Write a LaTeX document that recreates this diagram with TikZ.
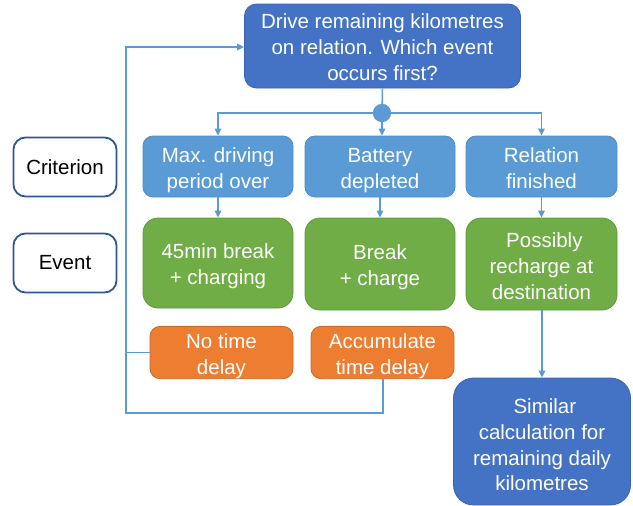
\documentclass[tikz,border=0pt]{standalone}
\usepackage{fontspec}
\setmainfont{Liberation Sans}
\usetikzlibrary{arrows.meta}
\definecolor{dblue}{HTML}{4472C4}
\definecolor{dbluebd}{HTML}{3A64B0}
\definecolor{lblue}{HTML}{5B9BD5}
\definecolor{lbluebd}{HTML}{4F8CC4}
\definecolor{green}{HTML}{70AD47}
\definecolor{greenbd}{HTML}{5E9A3A}
\definecolor{orange}{HTML}{ED7D31}
\definecolor{orangebd}{HTML}{C96A2A}
\definecolor{labbd}{HTML}{2F5597}
\definecolor{conn}{HTML}{5B9BD5}
\newcommand\topstr[1][22pt]{\rule{0pt}{#1}}
\begin{document}
\begin{tikzpicture}[x=1pt,y=-1pt,
  every node/.style={inner sep=0pt,align=center,font=\fontsize{20.5}{25.8}\selectfont},
  box/.style={draw,line width=0.8pt,text=white,rounded corners=#1,
    execute at end node={\rule[-4.5pt]{0pt}{4.5pt}}},
  box/.default=10pt,
  topbox/.style={box=12pt,fill=dblue,draw=dbluebd,minimum width=276pt,minimum height=84pt},
  critbox/.style={box=10pt,fill=lblue,draw=lbluebd,minimum height=61pt},
  eventbox/.style={box=15pt,fill=green,draw=greenbd},
  delaybox/.style={box=10pt,fill=orange,draw=orangebd,minimum width=143pt,minimum height=51pt},
  finalbox/.style={box=20pt,fill=dblue,draw=dbluebd,minimum width=177pt,minimum height=127pt},
  labelbox/.style={draw=labbd,line width=1.8pt,rounded corners=12pt,fill=white,text=black,minimum width=103pt,minimum height=59pt},
  conn/.style={draw=conn,line width=1.5pt},
  arr/.style={conn,-{Triangle[length=7pt,width=6.5pt]}}
]
\useasboundingbox (0,0) rectangle (633,506);

\node[topbox] (top) at (382.5,46) {\topstr Drive remaining kilometres\\on relation. Which event\\occurs first?};
\node[circle,fill=conn,minimum size=18pt] (dot) at (382,113) {};

\node[labelbox] (lc) at (65,167) {Criterion};
\node[labelbox] (le) at (65,263) {Event};

\node[critbox,minimum width=150pt] (c1) at (218,166.5) {\topstr Max. driving\\period over};
\node[critbox,minimum width=150pt] (c2) at (380,166.5) {\topstr Battery\\depleted};
\node[critbox,minimum width=151pt] (c3) at (541.5,166.5) {\topstr Relation\\finished};

\node[eventbox,minimum width=150pt,minimum height=90pt] (e1) at (218,263) {\topstr 45min break\\+ charging};
\node[eventbox,minimum width=150pt,minimum height=92pt] (e2) at (380,264) {\topstr Break\\+ charge};
\node[eventbox,minimum width=151pt,minimum height=92pt] (e3) at (541.5,264) {\topstr[24pt] Possibly\\recharge at\\destination};

\node[delaybox] (o1) at (221.5,352.5) {\topstr No time\\delay};
\node[delaybox] (o2) at (382.5,352.5) {\topstr Accumulate\\time delay};

\node[finalbox] (f) at (542,441.5) {\topstr[26pt] Similar\\calculation for\\remaining daily\\kilometres};

\coordinate (lt) at (126,47);
\coordinate (lb) at (126,413);
\coordinate (ob) at (383,413);

% connectors
\draw[conn] (top.south) -- (dot.center);
\draw[arr] (dot.center) -| (c1.north);
\draw[arr] (dot.center) -| (c3.north);
\draw[arr] (dot.south) -- (dot.south |- c2.north);
\draw[arr] (c1.south) -- (e1.north);
\draw[arr] (c2.south) -- (c2.south |- e2.north);
\draw[arr] (c3.south) -- (c3.south |- e3.north);
\draw[arr] (e3.south -| f.north) -- (f.north);
\draw[arr] (o1.west) -| (lb |- o1.west) -- (lt) -- (lt -| top.west);
\draw[conn] (o2.south -| ob) -- (ob) -- (lb) -- (lb |- o1.west);
\node[circle,fill=conn,minimum size=18pt] at (dot) {};
\end{tikzpicture}
\end{document}
